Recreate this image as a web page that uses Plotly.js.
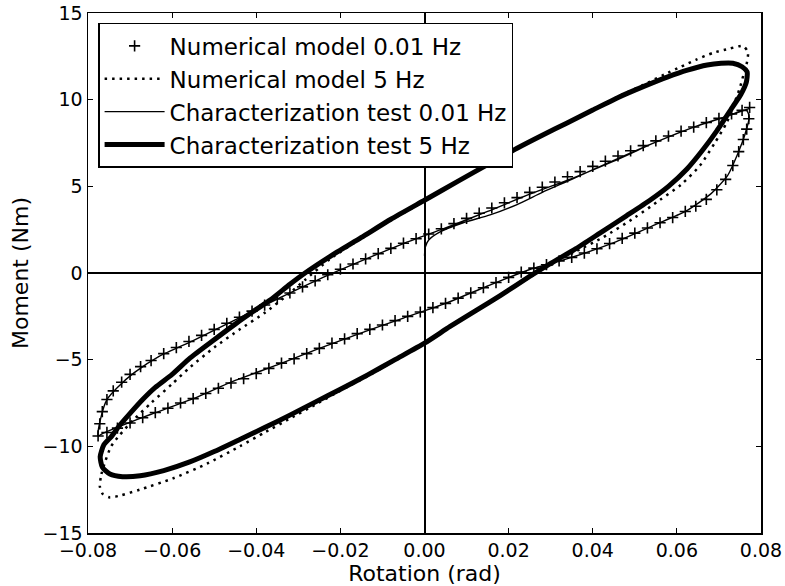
<!DOCTYPE html>
<html>
<head>
<meta charset="utf-8">
<script src="https://cdn.plot.ly/plotly-3.0.1.min.js"></script>
<style>html,body{margin:0;padding:0;background:#fff}#chart{width:785px;height:586px}</style>
</head>
<body>
<div id="chart"></div>
<script>
// ---- Data ----
// Numerical model 0.01 Hz (upper branch then lower branch)
const model001x = [-0.0776,-0.0772,-0.0766,-0.0755,-0.0740,-0.0720,-0.0700,-0.0675,-0.0650,-0.0620,-0.0590,-0.0560,-0.0530,-0.0500,-0.0470,-0.0440,-0.0410,-0.0380,-0.0350,-0.0320,-0.0290,-0.0260,-0.0230,-0.0200,-0.0170,-0.0140,-0.0110,-0.0080,-0.0050,-0.0020,0.0010,0.0040,0.0070,0.0100,0.0130,0.0160,0.0190,0.0220,0.0250,0.0280,0.0310,0.0340,0.0370,0.0400,0.0430,0.0460,0.0490,0.0520,0.0550,0.0580,0.0610,0.0640,0.0670,0.0700,0.0730,0.0755,0.0773,
  0.0771,0.0766,0.0758,0.0747,0.0733,0.0716,0.0695,0.0670,0.0645,0.0620,0.0590,0.0560,0.0530,0.0500,0.0470,0.0440,0.0410,0.0380,0.0350,0.0320,0.0290,0.0260,0.0230,0.0200,0.0170,0.0140,0.0110,0.0080,0.0050,0.0020,-0.0010,-0.0040,-0.0070,-0.0100,-0.0130,-0.0160,-0.0190,-0.0220,-0.0250,-0.0280,-0.0310,-0.0340,-0.0370,-0.0400,-0.0430,-0.0460,-0.0490,-0.0520,-0.0550,-0.0580,-0.0610,-0.0640,-0.0670,-0.0700,-0.0730,-0.0755];
const model001y = [-9.40,-8.70,-8.00,-7.30,-6.80,-6.30,-5.85,-5.40,-5.05,-4.65,-4.30,-3.95,-3.60,-3.25,-2.90,-2.55,-2.20,-1.85,-1.50,-1.15,-0.80,-0.45,-0.10,0.22,0.52,0.82,1.12,1.42,1.72,1.98,2.25,2.55,2.85,3.15,3.45,3.75,4.05,4.35,4.65,4.95,5.25,5.55,5.85,6.15,6.45,6.75,7.05,7.35,7.62,7.90,8.18,8.42,8.68,8.92,9.18,9.38,9.55,
  8.90,8.30,7.70,7.00,6.20,5.40,4.80,4.25,3.85,3.55,3.20,2.90,2.60,2.30,2.00,1.70,1.40,1.15,0.90,0.70,0.48,0.28,0.05,-0.25,-0.55,-0.85,-1.15,-1.45,-1.75,-2.00,-2.25,-2.50,-2.75,-3.00,-3.25,-3.50,-3.80,-4.05,-4.35,-4.65,-4.95,-5.20,-5.50,-5.80,-6.10,-6.35,-6.65,-6.95,-7.25,-7.50,-7.80,-8.05,-8.35,-8.65,-8.95,-9.20];

// Numerical model 5 Hz
const model5x = [-0.0772,-0.0768,-0.0758,-0.0745,-0.0725,-0.0693,-0.0650,-0.0600,-0.0558,-0.0500,-0.0439,-0.0380,-0.0320,-0.0284,-0.0225,-0.0150,-0.0080,0.0000,0.0080,0.0150,0.0220,0.0280,0.0339,0.0400,0.0458,0.0520,0.0570,0.0610,0.0645,0.0686,0.0726,0.0757,0.0769,0.0767,0.0758,0.0750,0.0735,0.0719,0.0690,0.0655,0.0610,0.0559,0.0500,0.0424,0.0360,0.0300,0.0250,0.0180,0.0120,0.0060,0.0000,-0.0070,-0.0135,-0.0201,-0.0260,-0.0320,-0.0380,-0.0439,-0.0517,-0.0598,-0.0677,-0.0725,-0.0748,-0.0765,-0.0772];
const model5y = [-12.30,-11.60,-10.80,-10.00,-9.35,-8.50,-7.50,-6.40,-5.45,-4.30,-3.25,-2.30,-1.15,-0.40,0.80,2.00,3.05,4.15,5.30,6.25,7.20,7.95,8.62,9.40,10.15,10.85,11.45,11.90,12.30,12.70,12.95,13.10,12.75,12.20,11.40,10.70,9.70,8.70,7.50,6.20,5.10,4.20,3.20,2.05,1.25,0.45,-0.25,-1.32,-2.22,-3.12,-4.08,-5.05,-5.95,-6.80,-7.60,-8.40,-9.20,-10.00,-11.00,-11.85,-12.50,-12.85,-12.95,-12.75,-12.30];

// Characterization test 0.01 Hz (initial loading curve, then cycling)
const test001x = [0.0000,0.0002,0.0010,0.0037,0.0092,0.0156,0.0220,0.0280,0.0350,0.0450,0.0550,0.0650,0.0720,0.0765,0.0772,0.0762,0.0745,0.0720,0.0680,0.0620,0.0550,0.0450,0.0350,0.0250,0.0150,0.0050,-0.0050,-0.0150,-0.0250,-0.0350,-0.0450,-0.0550,-0.0650,-0.0720,-0.0765,-0.0776,-0.0770,-0.0755,-0.0730,-0.0690,-0.0630,-0.0550,-0.0450,-0.0350,-0.0250,-0.0150,-0.0050,0.0050,0.0150,0.0250,0.0350,0.0450,0.0550,0.0650,0.0720,0.0773];
const test001y = [1.00,1.50,1.90,2.37,2.90,3.35,3.95,4.65,5.40,6.50,7.55,8.50,9.05,9.40,9.00,8.00,6.90,5.60,4.55,3.55,2.80,1.75,0.90,0.20,-0.75,-1.75,-2.60,-3.45,-4.35,-5.30,-6.20,-7.25,-8.15,-8.80,-9.25,-9.40,-8.40,-7.30,-6.60,-5.75,-4.80,-3.90,-2.70,-1.50,-0.35,0.70,1.70,2.60,3.55,4.55,5.45,6.45,7.55,8.50,9.05,9.50];

// Characterization test 5 Hz
const test5x = [-0.0771,-0.0762,-0.0745,-0.0725,-0.0700,-0.0670,-0.0640,-0.0600,-0.0557,-0.0500,-0.0450,-0.0400,-0.0367,-0.0320,-0.0284,-0.0225,-0.0150,-0.0080,0.0000,0.0080,0.0150,0.0220,0.0280,0.0339,0.0400,0.0458,0.0520,0.0577,0.0625,0.0672,0.0705,0.0733,0.0755,0.0767,0.0765,0.0752,0.0733,0.0695,0.0660,0.0624,0.0580,0.0536,0.0480,0.0417,0.0360,0.0300,0.0250,0.0180,0.0120,0.0060,0.0000,-0.0070,-0.0135,-0.0201,-0.0260,-0.0320,-0.0380,-0.0439,-0.0500,-0.0558,-0.0620,-0.0676,-0.0718,-0.0748,-0.0766,-0.0771];
const test5y = [-10.60,-9.90,-9.45,-8.80,-8.10,-7.30,-6.60,-5.85,-4.90,-3.85,-2.95,-2.10,-1.56,-0.65,0.00,0.95,2.05,3.10,4.20,5.30,6.25,7.20,7.95,8.66,9.40,10.10,10.75,11.30,11.70,12.00,12.10,12.10,11.90,11.60,11.00,10.30,9.60,8.20,7.05,6.00,5.00,4.20,3.30,2.30,1.40,0.55,-0.20,-1.30,-2.20,-3.10,-4.05,-5.00,-5.88,-6.72,-7.45,-8.20,-8.92,-9.60,-10.30,-10.90,-11.40,-11.70,-11.75,-11.60,-11.20,-10.60];

const seriesNames = ['Numerical model 0.01 Hz','Numerical model 5 Hz','Characterization test 0.01 Hz','Characterization test 5 Hz'];
const xTickVals = [-0.08,-0.06,-0.04,-0.02,0,0.02,0.04,0.06,0.08];
const yTickVals = [-15,-10,-5,0,5,10,15];

const FONT = 'DejaVu Sans, Verdana, sans-serif';

const traces = [
  {x: model001x, y: model001y, name: seriesNames[0], type: 'scatter', mode: 'markers',
   marker: {symbol: 'cross-thin-open', size: 8, color: '#000', line: {width: 1.6, color: '#000'}}},
  {x: model5x, y: model5y, name: seriesNames[1], type: 'scatter', mode: 'lines',
   line: {color: '#000', width: 2.5, dash: '2.5px,5px', shape: 'spline', smoothing: 0.6}},
  {x: test001x, y: test001y, name: seriesNames[2], type: 'scatter', mode: 'lines',
   line: {color: '#000', width: 1.4, shape: 'spline', smoothing: 0.6}},
  {x: test5x, y: test5y, name: seriesNames[3], type: 'scatter', mode: 'lines',
   line: {color: '#000', width: 5, shape: 'spline', smoothing: 0.6}}
];

const axisCommon = {
  showline: true, linecolor: '#000', linewidth: 1.5, mirror: 'ticks',
  ticks: 'inside', ticklen: 5, tickwidth: 1.2, tickcolor: '#000',
  showgrid: false, zeroline: true, zerolinecolor: '#000', zerolinewidth: 2,
  tickfont: {family: FONT, size: 19, color: '#000'}
};

const layout = {
  width: 785, height: 586,
  margin: {l: 88, r: 24, t: 13, b: 53},
  paper_bgcolor: '#fff', plot_bgcolor: '#fff',
  showlegend: true,
  xaxis: Object.assign({}, axisCommon, {
    range: [-0.08, 0.08], tickvals: xTickVals, tickformat: '.2f',
    title: {text: 'Rotation (rad)', font: {family: FONT, size: 22, color: '#000'}, standoff: 4}
  }),
  yaxis: Object.assign({}, axisCommon, {
    range: [-15, 15], tickvals: yTickVals,
    title: {text: 'Moment (Nm)', font: {family: FONT, size: 22, color: '#000'}, standoff: 8}
  }),
  legend: {
    x: 0.015, y: 0.981, xanchor: 'left', yanchor: 'top',
    bgcolor: '#fff', bordercolor: '#000', borderwidth: 1.5,
    font: {family: FONT, size: 23, color: '#000'},
    itemwidth: 60, tracegroupgap: 0
  }
};

Plotly.newPlot('chart', traces, layout, {displayModeBar: false, staticPlot: true});
</script>
</body>
</html>
